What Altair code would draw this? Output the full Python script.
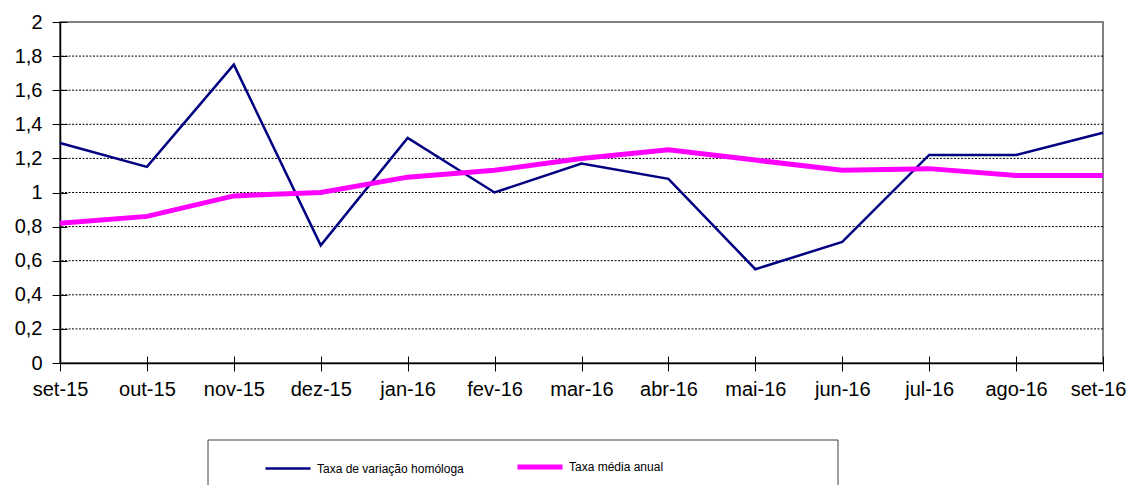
import altair as alt
import pandas as pd

months = ["set-15", "out-15", "nov-15", "dez-15", "jan-16", "fev-16", "mar-16",
          "abr-16", "mai-16", "jun-16", "jul-16", "ago-16", "set-16"]
homologa = [1.29, 1.15, 1.75, 0.69, 1.32, 1.00, 1.17, 1.08, 0.55, 0.71, 1.22, 1.22, 1.35]
media = [0.82, 0.86, 0.98, 1.00, 1.09, 1.13, 1.20, 1.25, 1.19, 1.13, 1.14, 1.10, 1.10]
series = ["Taxa de variação homóloga", "Taxa média anual"]
colors = ["#000080", "#FF00FF"]
widths = [2.5, 5]
yticks = [0, 0.2, 0.4, 0.6, 0.8, 1.0, 1.2, 1.4, 1.6, 1.8, 2.0]
gridvals = [0.2, 0.4, 0.6, 0.8, 1.0, 1.2, 1.4, 1.6, 1.8]

rows = []
for i, m in enumerate(months):
    rows.append({"mes": m, "serie": series[0], "valor": homologa[i]})
    rows.append({"mes": m, "serie": series[1], "valor": media[i]})
df = pd.DataFrame(rows)

FONT = "Liberation Sans"
label_expr = "replace(format(datum.value, '.1~f'), '.', ',')"

xscale = alt.Scale(domain=months, padding=0)
yscale = alt.Scale(domain=[0, 2], nice=False)

grid = alt.Chart(pd.DataFrame({"g": gridvals})).mark_rule(
    color="black", strokeDash=[2, 1.5], strokeWidth=1
).encode(y=alt.Y("g:Q", scale=yscale, axis=None))

box = alt.Chart(pd.DataFrame({"a": [0]})).mark_rect(
    filled=False, stroke="#404040", strokeWidth=1
).encode(x=alt.value(148), x2=alt.value(778), y=alt.value(418), y2=alt.value(520))

last_shift = {"condition": {"test": "datum.value == 'set-16'", "value": -5}, "value": 0}

lines = alt.Chart(df).mark_line().encode(
    x=alt.X("mes:O", sort=months, scale=xscale, title=None,
            axis=alt.Axis(orient="bottom", labelAngle=0, labelFont=FONT, labelFontSize=20,
                          labelColor="black", domainColor="black", domainWidth=1.5,
                          tickColor="black", tickSize=8, labelPadding=8, grid=False,
                          labelOffset=last_shift, labelBound=False, labelOverlap=False)),
    y=alt.Y("valor:Q", scale=yscale, title=None,
            axis=alt.Axis(orient="left", values=yticks, labelExpr=label_expr, labelFont=FONT,
                          labelFontSize=20, labelColor="black", domainColor="black",
                          domainWidth=1.5, tickColor="black", tickSize=8,
                          labelPadding=10, grid=False)),
    color=alt.Color("serie:N", sort=series,
                    scale=alt.Scale(domain=series, range=colors),
                    legend=alt.Legend(title=None, orient="none", legendX=203, legendY=420,
                                      direction="horizontal", columns=2, columnPadding=43,
                                      symbolType="stroke", symbolSize=2025,
                                      labelFont=FONT, labelFontSize=12, labelColor="black",
                                      labelOffset=4)),
    strokeWidth=alt.StrokeWidth("serie:N", sort=series,
                                scale=alt.Scale(domain=series, range=widths), legend=None),
)

inner = alt.Chart(df).mark_point(opacity=0).encode(
    x=alt.X("mes:O", sort=months, scale=xscale, title=None,
            axis=alt.Axis(orient="bottom", offset=-7, tickSize=7, tickColor="black",
                          domain=False, labels=False, grid=False)),
    y=alt.Y("valor:Q", scale=yscale, title=None,
            axis=alt.Axis(orient="left", offset=-7, tickSize=7, tickColor="black",
                          values=yticks, domain=False, labels=False, grid=False)),
)

chart = alt.layer(grid, box, lines, inner).resolve_axis(
    x="independent", y="independent"
).properties(
    width=1043, height=341,
    autosize=alt.AutoSizeParams(type="none"),
    padding={"left": 52, "top": 14, "right": 26, "bottom": 122},
).configure_view(stroke="#808080", strokeWidth=2)

chart.save("out.html", embed_options={"renderer": "svg", "actions": False})
